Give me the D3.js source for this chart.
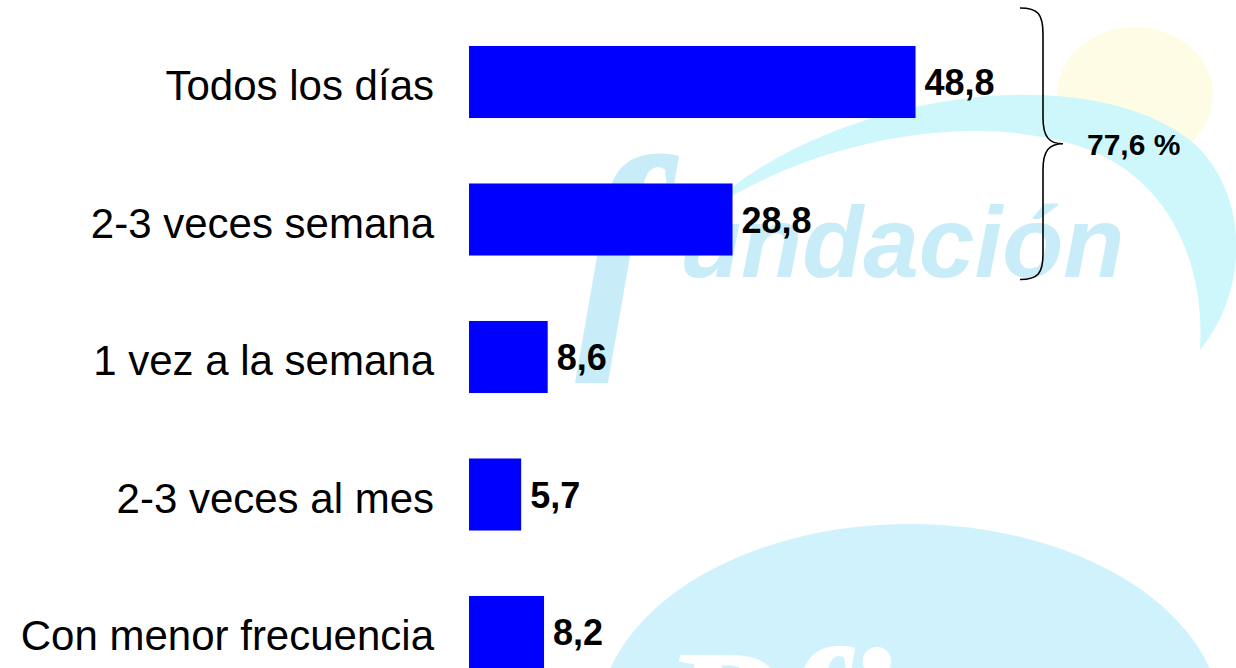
<!DOCTYPE html>
<html>
<head>
<meta charset="utf-8">
<script src="https://cdn.jsdelivr.net/npm/d3@7"></script>
<style>
	body { margin: 0; background: #fff; }
	svg text { font-family: "Liberation Sans", Arial, sans-serif; }
</style>
</head>
<body>
<div id="chart-area"></div>
<script>
/*
*    frecuencia de uso - barras horizontales
*/

var categories = ["Todos los días", "2-3 veces semana", "1 vez a la semana", "2-3 veces al mes", "Con menor frecuencia"];
var values = [48.8, 28.8, 8.6, 5.7, 8.2];
var groupedIdx = [0, 1]; // the two bars under the brace

var width = 1236,
	height = 668;

var svg = d3.select("#chart-area")
	.append("svg")
		.attr("width", width)
		.attr("height", height);

// comma decimals
var es = d3.formatLocale({decimal: ",", thousands: ".", grouping: [3], currency: ["", " €"]});
var fmt = es.format(".1f");

//watermark (background logo, very pale)
var wm = svg.append("g").attr("class", "watermark");

wm.append("ellipse")
	.attr("cx", 1135).attr("cy", 95)
	.attr("rx", 78).attr("ry", 68)
	.attr("fill", "#fffce6");

wm.append("path")
	.attr("d", "M700,215 C820,95 1080,55 1190,140 C1250,190 1250,290 1200,350 C1205,270 1175,185 1090,150 C990,112 830,130 700,215 Z")
	.attr("fill", "#cef7fc");

wm.append("text")
	.attr("x", 575).attr("y", 330)
	.attr("font-size", 250)
	.attr("font-style", "italic")
	.attr("font-weight", "bold")
	.style("font-family", "'Liberation Serif', serif")
	.attr("fill", "#c8edf8")
	.text("f");

wm.append("text")
	.attr("x", 680).attr("y", 277)
	.attr("font-size", 100)
	.attr("font-style", "italic")
	.attr("font-weight", "bold")
	.attr("fill", "#c8edf8")
	.text("undación");

wm.append("ellipse")
	.attr("cx", 910).attr("cy", 724)
	.attr("rx", 312).attr("ry", 200)
	.attr("fill", "#cff2fc");

wm.append("text")
	.attr("x", 660).attr("y", 780)
	.attr("font-size", 190)
	.attr("font-style", "italic")
	.attr("font-weight", "bold")
	.style("font-family", "'Liberation Serif', serif")
	.attr("fill", "#ffffff")
	.text("Pfizer");

//scales
var x = d3.scaleLinear()
	.domain([0, 50])
	.range([469, 926.5]);

var y = d3.scaleBand()
	.domain(categories)
	.range([13.25, 700.75])
	.paddingInner(0.476)
	.paddingOuter(0.238);

//bars
svg.selectAll("rect.bar")
	.data(values)
	.enter()
	.append("rect")
		.attr("class", "bar")
		.attr("x", x(0))
		.attr("y", function(d, i){ return y(categories[i]); })
		.attr("width", function(d){ return x(d) - x(0); })
		.attr("height", y.bandwidth())
		.attr("fill", "#0000ff");

//category labels
svg.selectAll("text.cat")
	.data(categories)
	.enter()
	.append("text")
		.attr("class", "cat")
		.attr("x", 434)
		.attr("y", function(d){ return y(d) + y.bandwidth()/2 + 18; })
		.attr("text-anchor", "end")
		.attr("font-size", 42)
		.attr("fill", "#000")
		.text(function(d){ return d; });

//value labels
svg.selectAll("text.val")
	.data(values)
	.enter()
	.append("text")
		.attr("class", "val")
		.attr("x", function(d){ return x(d) + 9; })
		.attr("y", function(d, i){ return y(categories[i]) + y.bandwidth()/2 + 13; })
		.attr("font-size", 36)
		.attr("font-weight", "bold")
		.attr("fill", "#000")
		.text(function(d){ return fmt(d); });

//brace round the first two bars
var top0 = y(categories[groupedIdx[0]]) - 38,
	bot0 = y(categories[groupedIdx[1]]) + y.bandwidth() + 24,
	mid = (top0 + bot0) / 2,
	bx = 1020, sx = 1043, tx = 1063;

svg.append("path")
	.attr("d", "M" + bx + "," + top0 +
		" C" + (bx+18) + "," + top0 + " " + sx + "," + (top0+6) + " " + sx + "," + (top0+26) +
		" L" + sx + "," + (mid-26) +
		" C" + sx + "," + (mid-7) + " " + (sx+6) + "," + mid + " " + tx + "," + mid +
		" C" + (sx+6) + "," + mid + " " + sx + "," + (mid+7) + " " + sx + "," + (mid+26) +
		" L" + sx + "," + (bot0-26) +
		" C" + sx + "," + (bot0-6) + " " + (bx+18) + "," + bot0 + " " + bx + "," + bot0)
	.attr("fill", "none")
	.attr("stroke", "#000")
	.attr("stroke-width", 1.6);

var total = d3.sum(groupedIdx, function(i){ return values[i]; });

svg.append("text")
	.attr("x", 1087)
	.attr("y", mid + 11)
	.attr("font-size", 30)
	.attr("font-weight", "bold")
	.attr("fill", "#000")
	.text(fmt(total) + " %");

</script>
</body>
</html>
